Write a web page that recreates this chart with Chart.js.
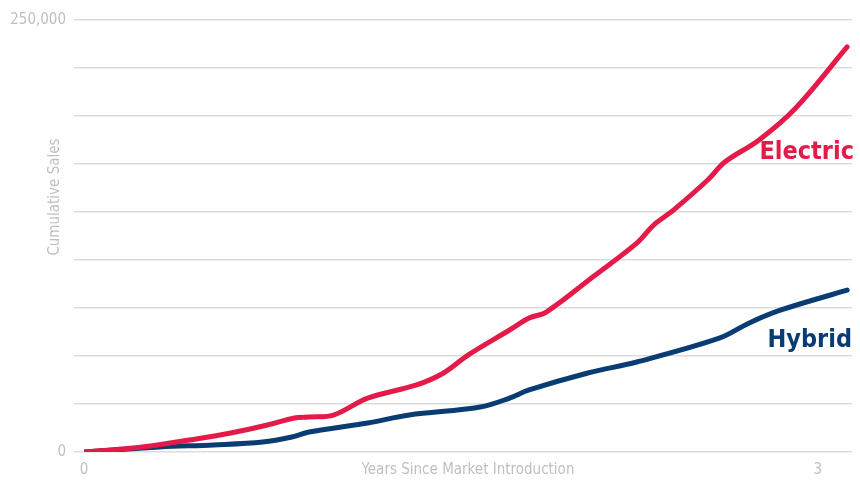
<!DOCTYPE html>
<html>
<head>
<meta charset="utf-8">
<script src="https://cdn.jsdelivr.net/npm/chart.js@4/dist/chart.umd.min.js"></script>
<style>
  html, body { margin: 0; padding: 0; background: #fff; }
  #wrap { width: 860px; height: 483px; }
</style>
</head>
<body>
<div id="wrap"><canvas id="myChart"></canvas></div>
<script>
const electricYears = [0, 0.11, 0.20, 0.30, 0.43, 0.60, 0.75, 0.86, 0.92, 1.02, 1.16, 1.36, 1.47, 1.57, 1.74, 1.82, 1.89, 2.08, 2.26, 2.33, 2.41, 2.55, 2.62, 2.76, 2.91, 3.12];
const electricSales = [0, 1200, 2300, 4100, 6900, 11000, 15600, 19700, 20300, 21400, 31200, 38800, 45700, 56100, 70600, 77500, 81000, 101300, 120900, 131400, 140000, 157400, 167800, 180600, 199100, 234400];
const hybridYears = [0, 0.31, 0.53, 0.73, 0.85, 0.92, 1.16, 1.33, 1.62, 1.74, 1.82, 2.06, 2.26, 2.60, 2.72, 2.85, 3.12];
const hybridSales = [0, 2900, 4100, 5800, 8700, 11600, 16800, 21400, 26000, 31200, 35900, 45700, 52100, 66000, 74700, 82200, 93700];
const seriesNames = ['Electric', 'Hybrid'];
const xTickValues = [0, 3];
const yTickValues = [0, 250000];

const red = 'rgb(228, 26, 72)';
const navy = 'rgb(8, 60, 114)';
const fontFamily = "'Liberation Sans Narrow', 'DejaVu Sans Condensed', 'Roboto Condensed', sans-serif";
const fmt = new Intl.NumberFormat('en-US');

function toPoints(xs, ys) {
    return xs.map((x, i) => ({ x: x, y: ys[i] }));
}

// axis titles and the inline series names
const textPlugin = {
    id: 'textPlugin',
    afterDraw(chart) {
        const c = chart.ctx;
        const area = chart.chartArea;
        const y = chart.scales.y;
        c.save();
        c.fillStyle = '#bfbfbf';
        c.font = '15px ' + fontFamily;
        c.textAlign = 'center';
        c.textBaseline = 'middle';
        c.fillText('Years Since Market Introduction', (area.left + area.right) / 2, 470);
        c.translate(55, 197);
        c.rotate(-Math.PI / 2);
        c.fillText('Cumulative Sales', 0, 0);
        c.restore();

        c.save();
        c.font = 'bold 25px ' + fontFamily;
        c.textAlign = 'right';
        c.textBaseline = 'middle';
        c.fillStyle = red;
        c.fillText(seriesNames[0], area.right + 2, y.getPixelForValue(173600));
        c.fillStyle = navy;
        c.fillText(seriesNames[1], area.right, y.getPixelForValue(64800));
        c.restore();
    }
};

const ctx = document.getElementById('myChart').getContext('2d');
const myChart = new Chart(ctx, {
    type: 'line',
    data: {
        datasets: [{
            label: seriesNames[0],
            data: toPoints(electricYears, electricSales),
            borderColor: red,
            borderWidth: 5,
            borderCapStyle: 'round',
            tension: 0.35,
            pointRadius: 0,
            fill: false
        }, {
            label: seriesNames[1],
            data: toPoints(hybridYears, hybridSales),
            borderColor: navy,
            borderWidth: 5,
            borderCapStyle: 'round',
            tension: 0.35,
            pointRadius: 0,
            fill: false
        }]
    },
    options: {
        responsive: true,
        maintainAspectRatio: false,
        animation: false,
        layout: { padding: { top: 20, right: 8, left: 0, bottom: 0 } },
        plugins: {
            legend: { display: false },
            tooltip: { enabled: false }
        },
        scales: {
            x: {
                type: 'linear',
                min: 0,
                max: 3.14,
                afterBuildTicks: (scale) => { scale.ticks = xTickValues.map(v => ({ value: v })); },
                afterFit: (scale) => { scale.height = 31; },
                grid: { display: false, drawTicks: false },
                border: { display: false },
                ticks: {
                    color: '#bfbfbf',
                    padding: 9,
                    maxRotation: 0,
                    font: { family: fontFamily, size: 15 },
                    callback: (v) => String(v)
                }
            },
            y: {
                min: 0,
                max: 250000,
                afterBuildTicks: (scale) => {
                    const ticks = [];
                    for (let i = 0; i <= 9; i++) ticks.push({ value: yTickValues[1] * i / 9 });
                    scale.ticks = ticks;
                },
                afterFit: (scale) => { scale.width = 84; },
                grid: { color: '#dcdcdc', lineWidth: 1.5, tickLength: 10 },
                border: { display: false },
                ticks: {
                    color: '#bfbfbf',
                    padding: 8,
                    font: { family: fontFamily, size: 15 },
                    callback: (v) => {
                        const hit = yTickValues.find(t => Math.abs(t - v) < 1);
                        return hit === undefined ? '' : fmt.format(hit);
                    }
                }
            }
        }
    },
    plugins: [textPlugin]
});
</script>
</body>
</html>
